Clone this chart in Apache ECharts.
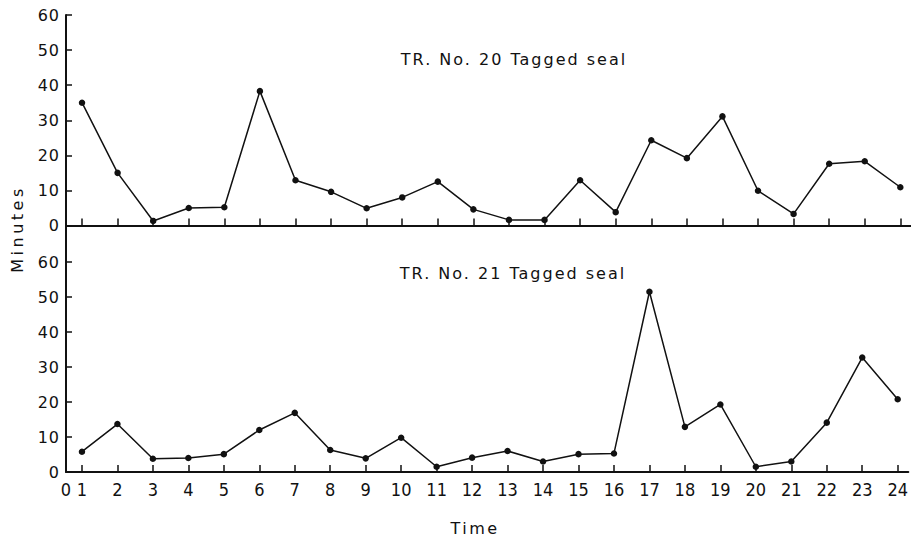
<!DOCTYPE html>
<html>
<head>
<meta charset="utf-8">
<script src="https://cdn.jsdelivr.net/npm/echarts@6/dist/echarts.min.js"></script>
<style>
html,body{margin:0;padding:0;background:#fff;}
#chart{width:911px;height:537px;}
</style>
</head>
<body>
<div id="chart"></div>
<script>
// ---- data ----
var hours = [1,2,3,4,5,6,7,8,9,10,11,12,13,14,15,16,17,18,19,20,21,22,23,24];
var seal20 = [35, 15, 1.3, 5, 5.2, 38.3, 12.9, 9.6, 4.9, 8, 12.5, 4.6, 1.6, 1.6, 12.9, 3.8, 24.3, 19.2, 31.1, 9.9, 3.3, 17.6, 18.3, 10.9];
var seal21 = [5.8, 13.7, 3.8, 4.0, 5.1, 12.0, 16.9, 6.3, 3.9, 9.8, 1.5, 4.1, 6.0, 3.0, 5.1, 5.3, 51.5, 12.9, 19.3, 1.5, 3.0, 14.1, 32.7, 20.8];
var yTicks = [0, 10, 20, 30, 40, 50, 60];
var title20 = 'TR. No. 20 Tagged seal';
var title21 = 'TR. No. 21 Tagged seal';
var xName = 'Time';
var yName = 'Minutes';

var xMin = 0.55, xMax = 24.3;
var ink = '#111';
var font = 'DejaVu Sans';
var xFont = '"DejaVu Sans Condensed", "Liberation Sans Narrow", "DejaVu Sans"';

function pairs(vals){ return hours.map(function(h,i){ return [h, vals[i]]; }); }

var chart = echarts.init(document.getElementById('chart'), null, {renderer:'svg'});

function xAxisCfg(idx, showLabels){
  return {
    type:'value', gridIndex: idx, min:xMin, max:xMax,
    axisLine:{show:true, onZero:false, lineStyle:{color:ink, width:2}},
    axisTick:{show:true, inside:true, length:7, customValues:hours, lineStyle:{color:ink, width:1.5}},
    axisLabel:{show:showLabels, customValues:[xMin].concat(hours), color:ink, fontFamily:xFont, fontSize:18, margin:8,
      showMinLabel:true, showMaxLabel:true,
      formatter:function(v){ return v < 1 ? '0' : String(Math.round(v)); }},
    splitLine:{show:false}
  };
}
function yAxisCfg(idx, max){
  return {
    type:'value', gridIndex: idx, min:0, max:max,
    axisLine:{show:true, lineStyle:{color:ink, width:2}},
    axisTick:{show:true, inside:true, length:6, customValues:yTicks, lineStyle:{color:ink, width:1.5}},
    axisLabel:{show:true, customValues:yTicks, color:ink, fontFamily:font, fontSize:16, margin:6},
    splitLine:{show:false}
  };
}

chart.setOption({
  backgroundColor:'#fff',
  animation:false,
  title:[
    {text:title20, left:509, top:46, textAlign:'center', textStyle:{color:ink, fontFamily:font, fontSize:16, fontWeight:'normal'}},
    {text:title21, left:508, top:260, textAlign:'center', textStyle:{color:ink, fontFamily:font, fontSize:16, fontWeight:'normal'}}
  ],
  grid:[
    {left:66, right:0, top:15, height:210.5},
    {left:66, right:0, top:225.5, height:246.5}
  ],
  xAxis:[ xAxisCfg(0,false), xAxisCfg(1,true) ],
  yAxis:[ yAxisCfg(0,60), yAxisCfg(1,(472-225.5)/3.5) ],
  graphic:[
    {type:'text', x:17, y:229, rotation:Math.PI/2,
     style:{text:yName, fill:ink, font:'16px "DejaVu Sans"', align:'center', verticalAlign:'middle'}},
    {type:'text', x:475, y:528,
     style:{text:xName, fill:ink, font:'16px "DejaVu Sans"', align:'center', verticalAlign:'middle'}}
  ],
  series:[
    {type:'line', xAxisIndex:0, yAxisIndex:0, data:pairs(seal20), symbol:'circle', symbolSize:6.5,
     lineStyle:{color:ink, width:1.5}, itemStyle:{color:ink}},
    {type:'line', xAxisIndex:1, yAxisIndex:1, data:pairs(seal21), symbol:'circle', symbolSize:6.5,
     lineStyle:{color:ink, width:1.5}, itemStyle:{color:ink}}
  ]
});

// letter spacing to imitate the widely spaced lettering of the original
var texts = document.querySelectorAll('#chart svg text');
texts.forEach(function(el){
  var t = el.textContent;
  if (t === title20 || t === title21) el.style.letterSpacing = '2px';
  else if (t === yName) el.style.letterSpacing = '3.5px';
  else if (t === xName) el.style.letterSpacing = '2.5px';
  else if (parseFloat(getComputedStyle(el).fontSize) < 17) el.style.letterSpacing = '1px';
});
</script>
</body>
</html>
